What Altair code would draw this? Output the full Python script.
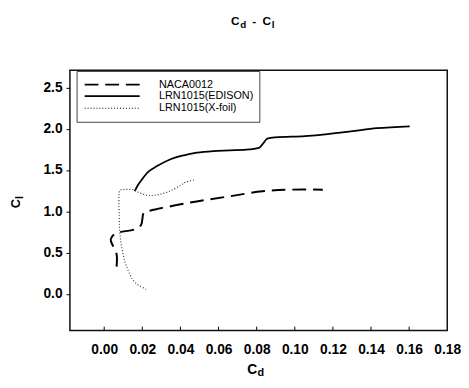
import altair as alt
import pandas as pd

# ---- data ----
naca_cd = [0.0065, 0.0065, 0.0048, 0.0034, 0.0052, 0.0079, 0.0165, 0.0194, 0.0208, 0.0240,
           0.0452, 0.0658, 0.0830, 0.0967, 0.1147]
naca_cl = [0.33, 0.48, 0.57, 0.66, 0.72, 0.745, 0.786, 0.837, 0.983, 1.007,
           1.107, 1.182, 1.242, 1.262, 1.262]

ed_cd = [0.0160, 0.0175, 0.0194, 0.0228, 0.0280, 0.0348, 0.0418, 0.0486, 0.0572, 0.0658,
         0.0761, 0.0812, 0.0830, 0.0856, 0.0898, 0.1053, 0.1173, 0.1294, 0.1431, 0.1603]
ed_cl = [1.245, 1.31, 1.373, 1.471, 1.551, 1.631, 1.679, 1.710, 1.730, 1.738,
         1.750, 1.769, 1.810, 1.881, 1.896, 1.912, 1.936, 1.968, 2.007, 2.030]

xf_cd = [0.0220, 0.0160, 0.0116, 0.0094, 0.0082, 0.0079, 0.0082, 0.0091, 0.0151, 0.0177,
         0.0228, 0.0263, 0.0331, 0.0400, 0.0426, 0.0477]
xf_cl = [0.055, 0.143, 0.340, 0.539, 0.738, 0.936, 1.254, 1.262, 1.262, 1.233,
         1.194, 1.194, 1.233, 1.313, 1.352, 1.381]

series_names = ["NACA0012", "LRN1015(EDISON)", "LRN1015(X-foil)"]
x_ticks = [0.00, 0.02, 0.04, 0.06, 0.08, 0.10, 0.12, 0.14, 0.16]
x_labels = [0.00, 0.02, 0.04, 0.06, 0.08, 0.10, 0.12, 0.14, 0.16, 0.18]
y_ticks = [0.0, 0.5, 1.0, 1.5, 2.0, 2.5]

W, H = 384, 265
FONT = "Liberation Sans"
xdom = [-0.018, 0.18]
ydom = [-0.445, 2.71]

def frame(cd, cl):
    return pd.DataFrame({"cd": cd, "cl": cl, "i": range(len(cd))})

xs = alt.Scale(domain=xdom, nice=False, zero=False)
ys = alt.Scale(domain=ydom, nice=False, zero=False)

base_x = alt.X("cd:Q", scale=xs,
               axis=alt.Axis(values=x_labels, format=".2f", ticks=False, domain=False, grid=False,
                             labelPadding=12, labelFont=FONT, labelFontSize=14, labelFontWeight="bold",
                             labelColor="black", title=None, labelOverlap=False, labelFlush=False))
base_y = alt.Y("cl:Q", scale=ys,
               axis=alt.Axis(values=y_ticks, format=".1f", ticks=True, tickSize=4, tickColor="black",
                             domain=False, grid=False, labelPadding=4, labelFont=FONT, labelFontSize=14,
                             labelFontWeight="bold", labelColor="black", title=None))

naca = alt.Chart(frame(naca_cd, naca_cl)).mark_line(
    color="black", strokeWidth=2, strokeDash=[14, 7], interpolate="catmull-rom").encode(
    x=base_x, y=base_y, order="i:Q")
edison = alt.Chart(frame(ed_cd, ed_cl)).mark_line(
    color="black", strokeWidth=1.8, interpolate="monotone").encode(
    x=alt.X("cd:Q", scale=xs), y=alt.Y("cl:Q", scale=ys), order="i:Q")
xfoil = alt.Chart(frame(xf_cd, xf_cl)).mark_line(
    color="#333", strokeWidth=1.2, strokeDash=[1, 2], interpolate="catmull-rom").encode(
    x=alt.X("cd:Q", scale=xs), y=alt.Y("cl:Q", scale=ys), order="i:Q")

xtick_layer = alt.Chart(pd.DataFrame({"cd": x_ticks})).mark_rule(color="black", strokeWidth=1).encode(
    x=alt.X("cd:Q", scale=xs), y=alt.value(H), y2=alt.value(H - 4))

one = pd.DataFrame({"_": [0]})

def txt(s, x, y, size, weight="normal", angle=None, align="left", baseline="alphabetic"):
    kw = dict(text=s, font=FONT, fontSize=size, fontWeight=weight, color="black",
              align=align, baseline=baseline)
    if angle is not None:
        kw["angle"] = angle
    return alt.Chart(one).mark_text(**kw).encode(x=alt.value(x), y=alt.value(y))

# legend (box + samples + labels), in plot-area pixels
lx0, lx1, ly0, ly1 = 7.3, 193.3, 1.3, 53
legend_box = alt.Chart(one).mark_rect(fill="white", stroke="#444", strokeWidth=1).encode(
    x=alt.value(lx0), x2=alt.value(lx1), y=alt.value(ly0), y2=alt.value(ly1))
rows = [14.7, 26.3, 38.7]
styles = [dict(strokeWidth=2, strokeDash=[14, 7]), dict(strokeWidth=1.8),
          dict(strokeWidth=1.2, strokeDash=[1, 2])]
legend_layers = [legend_box]
for r, st, name in zip(rows, styles, series_names):
    legend_layers.append(alt.Chart(one).mark_rule(color="black", **st).encode(
        x=alt.value(15), x2=alt.value(71), y=alt.value(r)))
    legend_layers.append(txt(name, 90.7, r, 11, baseline="middle"))

# titles with subscripts
titles = [
    txt("C", 164, -45.7, 12, "bold"), txt("d", 173.3, -42.5, 10, "bold"),
    txt("-", 185.5, -45.7, 12, "bold"), txt("C", 196, -45.7, 12, "bold"), txt("l", 205.3, -42.5, 10, "bold"),
    txt("C", 180.5, 309, 14, "bold"), txt("d", 191, 311.5, 11, "bold"),
    txt("C", -51, 140.5, 13, "bold", angle=270), txt("l", -47.5, 131, 11, "bold", angle=270),
]

chart = alt.layer(naca, edison, xfoil, xtick_layer, *legend_layers, *titles).properties(
    width=W, height=H,
    padding={"left": 63, "top": 60, "right": 14, "bottom": 47},
    autosize=alt.AutoSizeParams(type="none"),
).configure_view(stroke="#111", strokeWidth=1.5)

chart.save("out.html", embed_options={"renderer": "svg", "actions": False})
